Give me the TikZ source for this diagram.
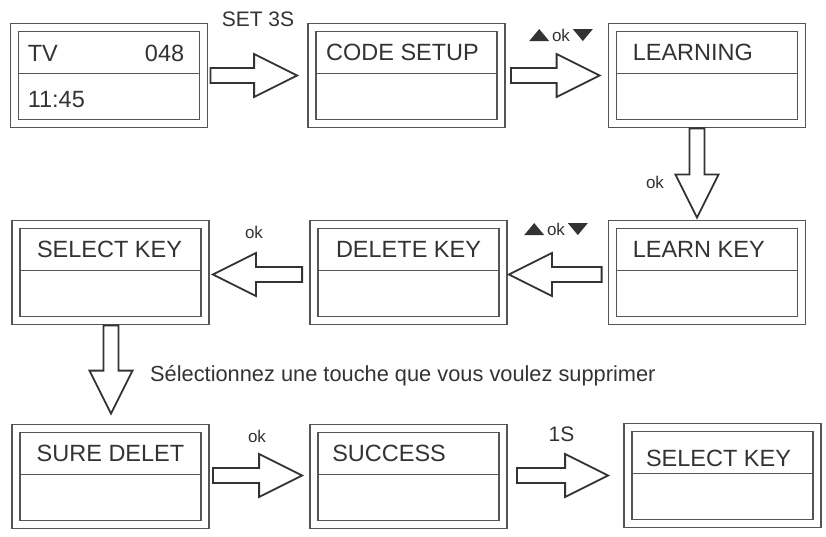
\documentclass[tikz,border=0pt]{standalone}
\usepackage{fontspec}
\setmainfont{Liberation Sans}
\usetikzlibrary{calc}
\definecolor{framegray}{HTML}{555555}
\definecolor{inkgray}{HTML}{333333}
\newcommand\uptri{\tikz[baseline=0pt]\fill[inkgray] (0pt,0pt) -- (20pt,0pt) -- (10pt,12pt) -- cycle;}
\newcommand\downtri{\tikz[baseline=0pt]\fill[inkgray] (0pt,12pt) -- (20pt,12pt) -- (10pt,0pt) -- cycle;}
\tikzset{
  lcd/.style={draw=framegray, line width=1.8pt, minimum width=197pt,
              minimum height=104pt, inner sep=0pt},
  frame/.style={draw=framegray, line width=1.6pt},
  lcdtext/.style={inkgray, font=\fontsize{23.5}{26}\selectfont, inner sep=0pt},
  steptext/.style={inkgray, font=\fontsize{21}{23}\selectfont, inner sep=0pt},
  oktext/.style={inkgray, font=\fontsize{17}{19}\selectfont, inner sep=0pt},
  blockarrow/.style={draw=inkgray, fill=white, line width=1.8pt, to path={
      ($(\tikztostart)!7.5pt!90:(\tikztotarget)$)
      -- ($(\tikztotarget)!43pt!(\tikztostart)!7.5pt!90:(\tikztotarget)$)
      -- ($(\tikztotarget)!43pt!(\tikztostart)!21.5pt!90:(\tikztotarget)$)
      -- (\tikztotarget)
      -- ($(\tikztotarget)!43pt!(\tikztostart)!21.5pt!-90:(\tikztotarget)$)
      -- ($(\tikztotarget)!43pt!(\tikztostart)!7.5pt!-90:(\tikztotarget)$)
      -- ($(\tikztostart)!7.5pt!-90:(\tikztotarget)$) -- cycle}}
}
\begin{document}
\begin{tikzpicture}[x=1pt,y=-1pt]
  \useasboundingbox (0,0) rectangle (826,537);
  % display boxes
  \node[lcd] (tv)       at (109,75.5)   {};
  \node[lcd] (code)     at (406.5,75.5) {};
  \node[lcd] (learning) at (707,75.5)   {};
  \node[lcd] (learnkey) at (707,272.5)  {};
  \node[lcd] (delkey)   at (408.5,272.5){};
  \node[lcd] (selkey)   at (110.5,272.5){};
  \node[lcd] (suredel)  at (110.5,476.5){};
  \node[lcd] (success)  at (408.5,476.5){};
  \node[lcd] (selback)  at (722.5,475.5){};
  \foreach \b in {tv,code,learning,learnkey,delkey,selkey,suredel,success,selback}{
    \draw[frame] ([shift={(9,9)}]\b.north west) rectangle ([shift={(-9,-9)}]\b.south east);
    \draw[frame] ([shift={(9,-2)}]\b.west) -- ([shift={(-9,-2)}]\b.east);
  }
  % display texts
  \node[lcdtext, anchor=base west] (tvname)  at ([shift={(18,-14)}]tv.west) {TV};
  \node[lcdtext, anchor=base east] (tvchan)  at ([shift={(-24,-14)}]tv.east) {048};
  \node[lcdtext, anchor=base west] (tvclock) at ([shift={(18,32.5)}]tv.west) {11:45};
  \node[lcdtext, anchor=base] (codetxt) at ([shift={(-4,-15)}]code.center) {CODE SETUP};
  \node[lcdtext, anchor=base west] (learningtxt) at ([shift={(25,-15)}]learning.west) {LEARNING};
  \node[lcdtext, anchor=base west] (learnkeytxt) at ([shift={(25,-15)}]learnkey.west) {LEARN KEY};
  \node[lcdtext, anchor=base] (delkeytxt) at ([shift={(0,-15)}]delkey.center) {DELETE KEY};
  \node[lcdtext, anchor=base] (selkeytxt) at ([shift={(-1,-15)}]selkey.center) {SELECT KEY};
  \node[lcdtext, anchor=base] (suredeltxt) at ([shift={(0,-15)}]suredel.center) {SURE DELET};
  \node[lcdtext, anchor=base west] (successtxt) at ([shift={(23,-15)}]success.west) {SUCCESS};
  \node[lcdtext, anchor=base] (selbacktxt) at ([shift={(-4,-9)}]selback.center) {SELECT KEY};
  % block arrows
  \draw[blockarrow] ([xshift=2]tv.east) to ([xshift=-10]code.west);
  \draw[blockarrow] ([xshift=5]code.east) to ([xshift=-8]learning.west);
  \draw[blockarrow] ([xshift=-10]learning.south) to ([shift={(-10,-2)}]learnkey.north);
  \draw[blockarrow] ([shift={(-6,2)}]learnkey.west) to ([shift={(1,2)}]delkey.east);
  \draw[blockarrow] ([shift={(-7,2)}]delkey.west) to ([shift={(3,2)}]selkey.east);
  \draw[blockarrow] ([xshift=0.5]selkey.south) to ([shift={(0.5,-10)}]suredel.north);
  \draw[blockarrow] ([shift={(3,-1)}]suredel.east) to ([shift={(-7,-1)}]success.west);
  \draw[blockarrow] ([shift={(9,-1)}]success.east) to ([shift={(-15,0)}]selback.west);
  % key labels
  \node[steptext, anchor=base] (set3s) at (258,27) {SET 3S};
  \node[oktext] (navtop) at (561,35) {\uptri\,ok\,\downtri};
  \node[oktext] (okdown) at (655,182) {ok};
  \node[oktext] (navmid) at (556,229) {\uptri\,ok\,\downtri};
  \node[oktext] (okleft) at (254,232) {ok};
  \node[steptext, anchor=base west, font=\fontsize{21.8}{24}\selectfont] (hint) at (150,381)
    {Sélectionnez une touche que vous voulez supprimer};
  \node[oktext] (okright) at (257,436) {ok};
  \node[steptext, anchor=base] (onesec) at (561.5,441) {1S};
\end{tikzpicture}
\end{document}
